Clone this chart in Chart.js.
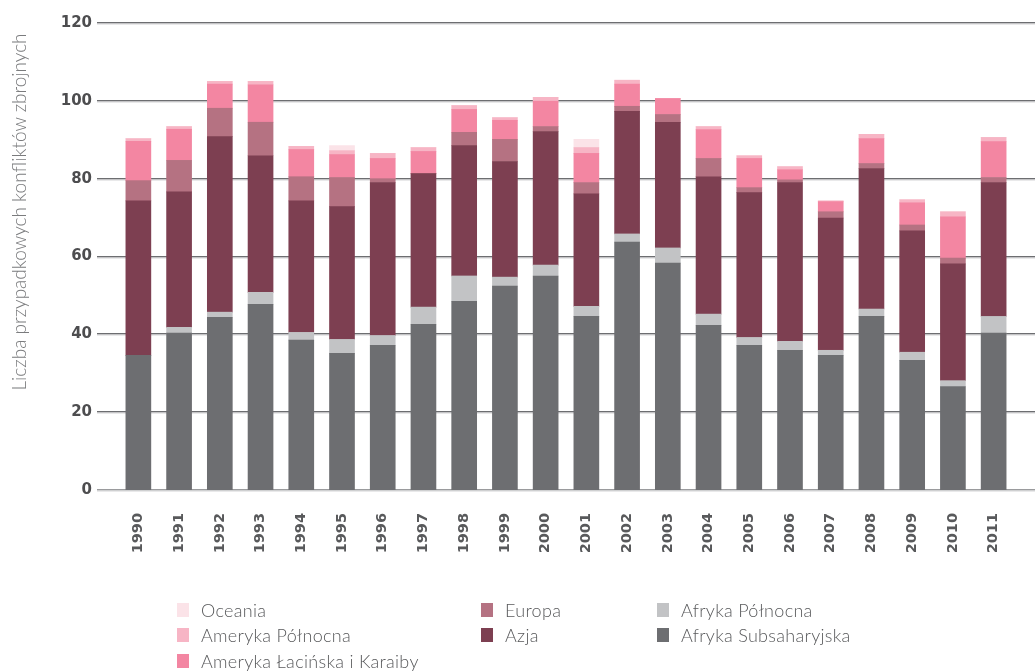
<!DOCTYPE html>
<html>
<head>
<meta charset="utf-8">
<script src="https://cdn.jsdelivr.net/npm/chart.js@4.4.1/dist/chart.umd.min.js"></script>
<style>
  html, body { margin: 0; padding: 0; background: #fff; }
  body { width: 1035px; height: 671px; position: relative; overflow: hidden; font-family: Lato, "Open Sans", sans-serif; }
  #wrap { position: absolute; left: 0; top: -12px; width: 1035px; height: 577px; }
  #legend { position: absolute; left: 0; top: 0; width: 1035px; height: 671px; pointer-events: none; }
  .item { position: absolute; height: 22px; display: flex; align-items: center; font-size: 18px; font-weight: 300; letter-spacing: 0.3px; color: #58595b; white-space: nowrap; }
  .box { width: 12px; height: 14px; margin-right: 12px; flex: none; }
  #ytitle { position: absolute; left: 18px; top: 212px; transform: translate(-50%, -50%) rotate(-90deg); font-size: 19px; font-weight: 300; color: #7a7b7d; white-space: nowrap; }
</style>
</head>
<body>
<div id="wrap"><canvas id="c"></canvas></div>
<div id="ytitle"></div>
<div id="legend"></div>
<script>
const years = ['1990','1991','1992','1993','1994','1995','1996','1997','1998','1999','2000','2001','2002','2003','2004','2005','2006','2007','2008','2009','2010','2011'];
const afrykaSubsaharyjska = [34.6,40.3,44.4,47.7,38.5,35.1,37.2,42.6,48.5,52.4,55.0,44.6,63.7,58.3,42.3,37.2,35.9,34.6,44.6,33.3,26.6,40.3];
const afrykaPolnocna      = [0,1.5,1.3,3.1,2.0,3.6,2.5,4.4,6.5,2.3,2.8,2.6,2.1,3.9,2.9,2.0,2.3,1.3,1.9,2.1,1.5,4.3];
const azja                = [39.7,34.8,45.1,35.1,33.8,34.1,39.3,34.3,33.5,29.7,34.3,28.9,31.5,32.3,35.3,37.2,40.8,34.0,36.1,31.2,30.0,34.4];
const europa              = [5.2,8.1,7.3,8.6,6.2,7.5,1.0,0,3.4,5.7,1.3,2.9,1.3,2.0,4.7,1.3,0.7,1.6,1.3,1.5,1.5,1.3];
const amerykaLacinska     = [10.1,8.0,6.2,9.6,7.0,5.9,5.2,5.7,5.9,4.9,6.5,7.5,5.7,4.1,7.4,7.5,2.6,2.6,6.4,5.7,10.6,9.2];
const amerykaPolnocna     = [0.7,0.7,0.7,0.9,0.8,1.0,1.3,1.0,1.0,0.7,1.0,1.5,1.0,0,0.8,0.7,0.8,0.2,1.1,0.8,1.3,1.1];
const oceania             = [0,0,0,0,0,1.3,0,0,0,0,0,2.1,0,0,0,0,0,0,0,0,0,0];

const seriesNames = ['Afryka Subsaharyjska','Afryka Północna','Azja','Europa','Ameryka Łacińska i Karaiby','Ameryka Północna','Oceania'];
const seriesData = [afrykaSubsaharyjska, afrykaPolnocna, azja, europa, amerykaLacinska, amerykaPolnocna, oceania];
const seriesColors = ['#6d6e71','#c2c3c5','#7d3f51','#b57282','#f386a2','#f7b5c5','#fbe3e8'];
const yAxisTitle = 'Liczba przypadkowych konfliktów zbrojnych';

document.getElementById('ytitle').textContent = yAxisTitle;

const gridPlugin = {
  id: 'fullGrid',
  beforeDatasetsDraw(chart) {
    const y = chart.scales.y;
    const ctx = chart.ctx;
    ctx.save();
    y.ticks.forEach(t => {
      const py = Math.round(y.getPixelForValue(t.value));
      ctx.fillStyle = t.value === 0 ? '#9a9b9d' : '#6d6e71';
      ctx.fillRect(97, py - 1, chart.width - 97, 1.5);
      ctx.fillStyle = '#d4d4d6';
      ctx.fillRect(97, py + 0.5, chart.width - 97, 1);
    });
    ctx.restore();
  }
};

const chart = new Chart(document.getElementById('c'), {
  type: 'bar',
  data: {
    labels: years,
    datasets: seriesNames.map((n, i) => ({
      label: n,
      data: seriesData[i],
      backgroundColor: seriesColors[i],
      borderWidth: 0,
      barThickness: 25
    }))
  },
  options: {
    responsive: true,
    maintainAspectRatio: false,
    animation: false,
    layout: { padding: { left: 0, right: 21, top: 11, bottom: 0 } },
    plugins: { legend: { display: false }, tooltip: { enabled: false } },
    scales: {
      x: {
        stacked: true,
        grid: { display: false, drawTicks: false },
        border: { display: false },
        afterFit(s) { s.height = 75; },
        ticks: {
          minRotation: 90, maxRotation: 90, autoSkip: false, padding: 23,
          color: '#58595b',
          font: { family: 'DejaVu Sans', size: 14.5, weight: 'bold' }
        }
      },
      y: {
        stacked: true,
        min: 0, max: 120,
        grid: { display: false, drawTicks: false },
        border: { display: false },
        afterFit(s) { s.width = 118; },
        ticks: {
          stepSize: 20, padding: 26,
          color: '#4d4d4f',
          font: { family: 'DejaVu Sans', size: 15, weight: 'bold' }
        }
      }
    }
  },
  plugins: [gridPlugin]
});

// legend (column-major, 3 columns as in the reference)
const colX = [177, 481, 657];
const rowY = [599, 624, 650];
const colRows = [[6, 5, 4], [3, 2], [1, 0]];
const leg = document.getElementById('legend');
colRows.forEach((rows, c) => {
  rows.forEach((si, r) => {
    const d = document.createElement('div');
    d.className = 'item';
    d.style.left = colX[c] + 'px';
    d.style.top = rowY[r] + 'px';
    const b = document.createElement('span');
    b.className = 'box';
    b.style.background = seriesColors[si];
    const t = document.createElement('span');
    t.textContent = seriesNames[si];
    d.appendChild(b); d.appendChild(t);
    leg.appendChild(d);
  });
});
</script>
</body>
</html>
